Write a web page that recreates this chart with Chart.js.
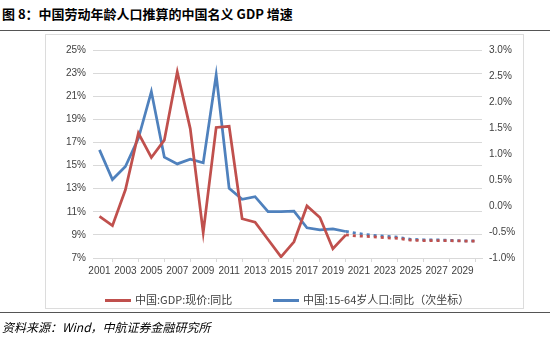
<!DOCTYPE html>
<html lang="zh-CN">
<head>
    <meta charset="UTF-8">
    <title>中国劳动年龄人口推算的中国名义 GDP 增速</title>
    <script src="https://cdn.jsdelivr.net/npm/chart.js"></script>
    <style>
        body { margin: 0; background: #fff; width: 550px; height: 349px; position: relative; overflow: hidden; font-family: 'Noto Sans CJK SC', sans-serif; }
        #title { position: absolute; left: 2px; top: 4px; font-size: 13px; font-weight: bold; color: #000; white-space: nowrap; }
        .rule { position: absolute; left: 0; width: 550px; height: 0; border-top: 1.5px solid #555; }
        #frame { position: absolute; left: 45px; top: 34px; width: 477px; height: 273px; border: 1px solid #dcdcdc; }
        #source { position: absolute; left: 2px; top: 318px; font-size: 12px; font-style: italic; color: #000; white-space: nowrap; }
        .key { position: absolute; top: 256px; height: 16px; line-height: 16px; font-size: 11px; color: #404040; white-space: nowrap; }
        .key i { display: inline-block; width: 26px; height: 3px; vertical-align: middle; margin-right: 4px; position: relative; top: -1px; }
    </style>
</head>
<body>
    <div id="title">图 8：中国劳动年龄人口推算的中国名义 GDP 增速</div>
    <div class="rule" style="top:30px"></div>
    <div id="frame">
        <canvas id="gdpChart" width="477" height="273"></canvas>
        <div id="legend"></div>
    </div>
    <div class="rule" style="top:312px"></div>
    <div id="source">资料来源：Wind，中航证券金融研究所</div>

    <script>
        // years 2001-2030, 2020 onwards is the projection (dotted)
        const years = ['2001', '2002', '2003', '2004', '2005', '2006', '2007', '2008', '2009', '2010',
                       '2011', '2012', '2013', '2014', '2015', '2016', '2017', '2018', '2019', '2020',
                       '2021', '2022', '2023', '2024', '2025', '2026', '2027', '2028', '2029', '2030'];
        // 中国:GDP:现价:同比 (%), left axis
        const gdpGrowth = [10.6, 9.8, 12.9, 17.8, 15.7, 17.2, 23.1, 18.2, 9.2, 18.3,
                           18.4, 10.4, 10.1, 8.6, 7.1, 8.4, 11.5, 10.5, 7.8, 9.0,
                           8.9, 8.85, 8.75, 8.7, 8.55, 8.5, 8.5, 8.5, 8.47, 8.45];
        // 中国:15-64岁人口:同比 (%), right axis
        const laborGrowth = [1.08, 0.51, 0.76, 1.3, 2.2, 0.94, 0.81, 0.9, 0.83, 2.52,
                             0.34, 0.13, 0.18, -0.11, -0.11, -0.10, -0.42, -0.46, -0.44, -0.49,
                             -0.53, -0.56, -0.58, -0.6, -0.64, -0.65, -0.65, -0.66, -0.67, -0.67];
        const leftTicks = [7, 9, 11, 13, 15, 17, 19, 21, 23, 25];
        const rightTicks = [-1.0, -0.5, 0.0, 0.5, 1.0, 1.5, 2.0, 2.5, 3.0];
        const forecastStart = 19; // index of 2020

        const red = '#C0504D';
        const blue = '#4F81BD';
        const tickFont = { family: "'Liberation Sans', sans-serif", size: 10 };

        const dotted = ctx => ctx.p0DataIndex >= forecastStart ? [3, 4] : undefined;

        const ctx = document.getElementById('gdpChart').getContext('2d');
        const chart = new Chart(ctx, {
            type: 'line',
            data: {
                labels: years,
                datasets: [{
                    label: '中国:GDP:现价:同比',
                    data: gdpGrowth,
                    borderColor: red,
                    backgroundColor: red,
                    borderWidth: 2.75,
                    pointRadius: 0,
                    tension: 0,
                    yAxisID: 'y',
                    segment: { borderDash: dotted }
                }, {
                    label: '中国:15-64岁人口:同比（次坐标）',
                    data: laborGrowth,
                    borderColor: blue,
                    backgroundColor: blue,
                    borderWidth: 2.75,
                    pointRadius: 0,
                    tension: 0,
                    yAxisID: 'y1',
                    segment: { borderDash: dotted }
                }]
            },
            options: {
                responsive: false,
                animation: false,
                layout: { padding: { top: 15, left: 0, right: 0, bottom: 30 } },
                scales: {
                    x: {
                        offset: true,
                        grid: {
                            offset: true,
                            drawOnChartArea: false,
                            color: '#d9d9d9',
                            tickLength: 4
                        },
                        border: { color: '#d9d9d9' },
                        ticks: {
                            autoSkip: false,
                            maxRotation: 0,
                            color: '#404040',
                            font: tickFont,
                            padding: 3,
                            callback: function(value, index) {
                                return index % 2 === 0 ? years[index] : null;
                            }
                        },
                        afterFit: s => { s.height = 20; }
                    },
                    y: {
                        position: 'left',
                        min: leftTicks[0],
                        max: leftTicks[leftTicks.length - 1],
                        afterBuildTicks: s => { s.ticks = leftTicks.map(v => ({ value: v })); },
                        grid: { color: '#d9d9d9', drawTicks: false },
                        border: { display: false },
                        ticks: {
                            color: '#404040',
                            font: tickFont,
                            padding: 7,
                            callback: v => v + '%'
                        },
                        afterFit: s => { s.width = 47; }
                    },
                    y1: {
                        position: 'right',
                        min: rightTicks[0],
                        max: rightTicks[rightTicks.length - 1],
                        afterBuildTicks: s => { s.ticks = rightTicks.map(v => ({ value: v })); },
                        grid: { drawOnChartArea: false, drawTicks: false },
                        border: { display: false },
                        ticks: {
                            color: '#404040',
                            font: tickFont,
                            padding: 7,
                            callback: v => v.toFixed(1) + '%'
                        },
                        afterFit: s => { s.width = 41; }
                    }
                },
                plugins: {
                    legend: { display: false },
                    tooltip: { enabled: false }
                }
            }
        });

        // legend keys laid out like the original (wider gap than Chart.js allows)
        const keyLeft = [59, 227];
        const legend = document.getElementById('legend');
        chart.data.datasets.forEach((d, i) => {
            const key = document.createElement('div');
            key.className = 'key';
            key.style.left = keyLeft[i] + 'px';
            key.innerHTML = '<i style="background:' + d.borderColor + '"></i>' + d.label;
            legend.appendChild(key);
        });
    </script>
</body>
</html>
